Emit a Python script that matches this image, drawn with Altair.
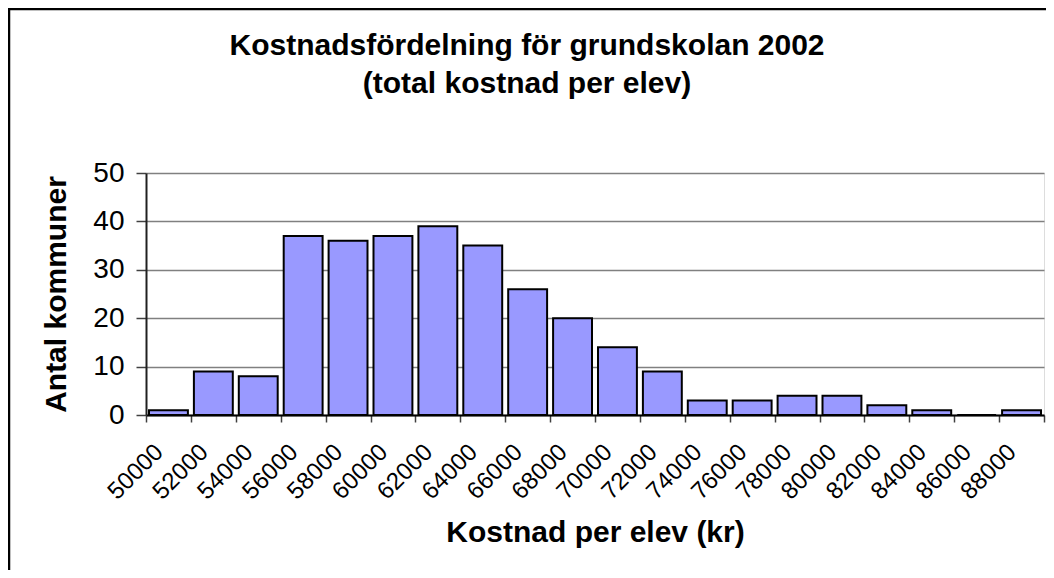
import altair as alt
import pandas as pd

# Bin edges (kr per elev) and number of municipalities per bin
edges = [50000, 52000, 54000, 56000, 58000, 60000, 62000, 64000, 66000, 68000,
         70000, 72000, 74000, 76000, 78000, 80000, 82000, 84000, 86000, 88000, 90000]
counts = [1, 9, 8, 37, 36, 37, 39, 35, 26, 20, 14, 9, 3, 3, 4, 4, 2, 1, 0, 1]
y_ticks = [0, 10, 20, 30, 40, 50]

title_lines = ["Kostnadsfördelning för grundskolan 2002", "(total kostnad per elev)"]
x_title = "Kostnad per elev (kr)"
y_title = "Antal kommuner"

df = pd.DataFrame({"start": edges[:-1], "end": edges[1:], "count": counts})
frame_df = pd.DataFrame({"k": [0]})

FONT = "Liberation Sans"
W, H = 898, 242

bars = alt.Chart(df).mark_bar(
    fill="#9999FF", stroke="#000000", strokeWidth=2, xOffset=3, x2Offset=-3
).encode(
    x=alt.X(
        "start:Q",
        scale=alt.Scale(domain=[edges[0], edges[-1]], nice=False, zero=False),
        axis=alt.Axis(
            values=edges,
            title=x_title,
            labelExpr="datum.value >= 90000 ? '' : format(datum.value, 'd')",
            labelAngle=315,
            labelAlign="right",
            labelBaseline="middle",
            labelFontSize=24,
            labelFont=FONT,
            labelColor="#000000",
            labelPadding=26,
            labelOffset=13,
            labelOverlap=False,
            labelFlush=False,
            tickSize=7,
            tickColor="#404040",
            tickWidth=1.5,
            domainColor="#000000",
            domainWidth=2,
            grid=False,
            titleFont=FONT,
            titleFontSize=30,
            titleFontWeight="bold",
            titleColor="#000000",
            titleBaseline="alphabetic",
            titleY=126,
        ),
    ),
    x2="end:Q",
    y=alt.Y(
        "count:Q",
        scale=alt.Scale(domain=[0, 50], nice=False),
        axis=alt.Axis(
            values=y_ticks,
            title=y_title,
            labelFontSize=28,
            labelFont=FONT,
            labelColor="#000000",
            labelPadding=12,
            tickSize=10,
            tickColor="#404040",
            tickWidth=1.5,
            domainColor="#202020",
            domainWidth=2,
            grid=True,
            gridColor="#808080",
            gridWidth=1.5,
            titleFont=FONT,
            titleFontSize=30,
            titleFontWeight="bold",
            titleColor="#000000",
            titleAngle=270,
            titleBaseline="middle",
            titleX=-90,
            titleY=121,
        ),
    ),
    y2=alt.datum(0),
)

frame_left = alt.Chart(frame_df).mark_rule(color="#000000", strokeWidth=2.5).encode(
    x=alt.value(-137), y=alt.value(-164), y2=alt.value(397)
)
frame_top = alt.Chart(frame_df).mark_rule(color="#000000", strokeWidth=2.5).encode(
    x=alt.value(-138), x2=alt.value(900), y=alt.value(-164)
)

chart = alt.layer(frame_left, frame_top, bars).properties(
    width=W,
    height=H,
    title=alt.TitleParams(
        text=title_lines,
        font=FONT,
        fontSize=30,
        fontWeight="bold",
        color="#000000",
        lineHeight=38,
        anchor="middle",
        frame="group",
        dx=-68,
        offset=-91,
    ),
    autosize=alt.AutoSizeParams(type="none"),
    padding={"left": 138, "top": 165, "right": 2, "bottom": 155},
).configure_view(
    stroke="#808080", strokeWidth=1.5
).configure(background="#FFFFFF")

chart.save("out.html", embed_options={"renderer": "svg", "actions": False})
